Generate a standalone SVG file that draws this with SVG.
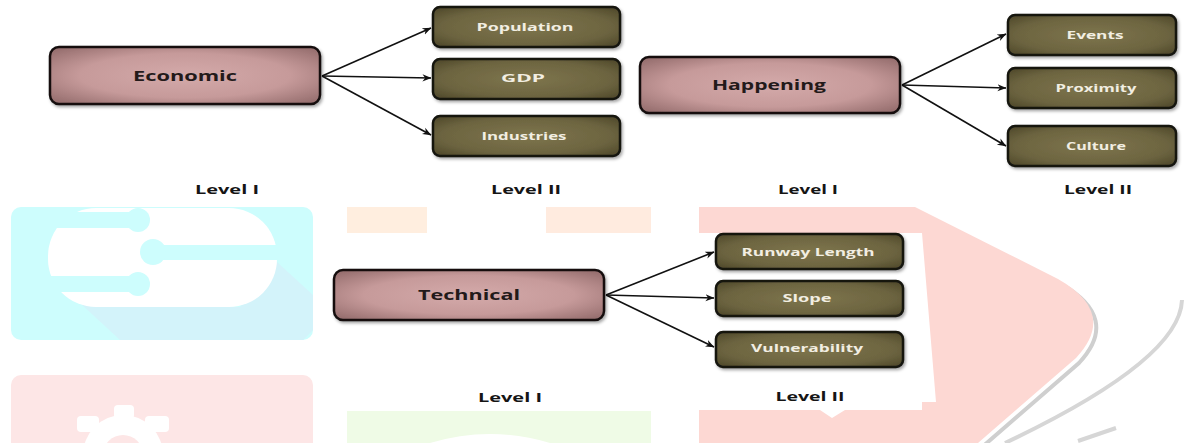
<svg xmlns="http://www.w3.org/2000/svg" width="1184" height="443" viewBox="0 0 1184 443">
<style>
.pk{fill:url(#gp);stroke:#141010;stroke-width:2.5;filter:url(#sh)}
.ol{fill:url(#go);stroke:#141410;stroke-width:2.5;filter:url(#sh)}
.tp{font-family:"Open Sans","DejaVu Sans",sans-serif;font-weight:bold;font-size:15px;fill:#231a1a;text-anchor:middle}
.to{font-family:"Open Sans","DejaVu Sans",sans-serif;font-weight:bold;font-size:10.5px;fill:#f2eee2;text-anchor:middle}
.lv{font-family:"Open Sans","DejaVu Sans",sans-serif;font-weight:bold;font-size:11.5px;fill:#151515;text-anchor:middle}
.cn{stroke:#111;stroke-width:1.6;fill:none;marker-end:url(#ah)}
</style>
<defs>
<radialGradient id="gp" cx="50%" cy="50%" r="65%">
<stop offset="0" stop-color="#d4aaaa"/><stop offset="0.6" stop-color="#c69a9a"/><stop offset="1" stop-color="#987070"/>
</radialGradient>
<radialGradient id="go" cx="50%" cy="50%" r="65%">
<stop offset="0" stop-color="#7e754c"/><stop offset="0.7" stop-color="#6c6440"/><stop offset="1" stop-color="#524b2c"/>
</radialGradient>
<filter id="sh" x="-10%" y="-20%" width="130%" height="150%">
<feDropShadow dx="1.5" dy="2" stdDeviation="1.5" flood-color="#000" flood-opacity="0.35"/>
</filter>
<marker id="ah" viewBox="0 0 10 10" refX="9.5" refY="5" markerWidth="9" markerHeight="9" orient="auto" markerUnits="userSpaceOnUse">
<path d="M0,1 L10,5 L0,9 L3,5 Z" fill="#111"/>
</marker>
</defs>
<rect width="1184" height="443" fill="#fff"/>
<g id="watermark">
<rect x="11" y="207" width="302" height="133" rx="10" fill="#cdfdfd"/>
<polygon points="80,303 240,307 277,262 313,295 313,330 303,340 120,340" fill="#d3f3fa"/>
<rect x="48" y="208" width="229" height="99" rx="48" fill="#fff"/>
<rect x="30" y="212" width="108" height="16" fill="#cdfdfd"/>
<circle cx="138" cy="220" r="12" fill="#cdfdfd"/>
<rect x="153" y="245" width="130" height="15" fill="#cdfdfd"/>
<circle cx="153" cy="252" r="13" fill="#cdfdfd"/>
<rect x="30" y="276" width="108" height="16" fill="#cdfdfd"/>
<circle cx="138" cy="284" r="12" fill="#cdfdfd"/>
<rect x="11" y="375" width="302" height="80" rx="10" fill="#fde6e6"/>
<circle cx="123" cy="455" r="40" fill="#fff"/>
<rect x="114" y="405" width="20" height="14" rx="4" fill="#fff"/>
<rect x="77" y="416" width="22" height="16" rx="4" fill="#fff"/>
<rect x="145" y="416" width="24" height="16" rx="4" fill="#fff"/>
<circle cx="123" cy="455" r="20" fill="#fde6e6"/>
<rect x="347" y="207" width="80" height="26" fill="#ffeedf"/>
<rect x="546" y="207" width="105" height="26" fill="#ffebdf"/>
<rect x="347" y="411" width="304" height="32" fill="#effbe6"/>
<path d="M430,443 Q490,425 550,443 Z" fill="#fff"/>
<path d="M1005,443 Q1180,360 1182,300" stroke="#d6d6d6" stroke-width="4" fill="none"/>
<path d="M1078,441 L1116,428" stroke="#d6d6d6" stroke-width="4" fill="none"/>
<path d="M700,209 L915,209 L1058,281 Q1118,315 1076,360 L978,445" stroke="#cfcfcf" stroke-width="4" fill="none" transform="translate(3,3)"/>
<path d="M699,207 L915,207 L1058,279 Q1118,313 1076,358 L978,443 L699,443 Z" fill="#fdd8d3"/>
<polygon points="699,233 922,233 936,402 922,402 922,410 845,410 832,418 820,410 699,410" fill="#fff"/>
</g>
<g id="connectors">
<path class="cn" d="M322,76 L431,28"/>
<path class="cn" d="M322,76 L431,78"/>
<path class="cn" d="M322,76 L431,135"/>
<path class="cn" d="M902,85 L1006,34"/>
<path class="cn" d="M902,85 L1006,88"/>
<path class="cn" d="M902,85 L1006,146"/>
<path class="cn" d="M606,295 L714,252"/>
<path class="cn" d="M606,295 L714,298"/>
<path class="cn" d="M606,295 L714,347"/>
</g>
<g id="economic"><rect class="pk" x="50" y="47" width="270" height="57" rx="9"/><text class="tp" x="185" y="81" textLength="104" lengthAdjust="spacingAndGlyphs">Economic</text></g>
<g id="population"><rect class="ol" x="433" y="7" width="187" height="40" rx="7"/><text class="to" x="525" y="31" textLength="97" lengthAdjust="spacingAndGlyphs">Population</text></g>
<g id="gdp"><rect class="ol" x="433" y="59" width="187" height="40" rx="7"/><text class="to" x="523" y="82" textLength="44" lengthAdjust="spacingAndGlyphs">GDP</text></g>
<g id="industries"><rect class="ol" x="433" y="116" width="187" height="40" rx="7"/><text class="to" x="524" y="140" textLength="85" lengthAdjust="spacingAndGlyphs">Industries</text></g>
<g id="happening"><rect class="pk" x="640" y="57" width="260" height="56" rx="9"/><text class="tp" x="769" y="90" textLength="114" lengthAdjust="spacingAndGlyphs">Happening</text></g>
<g id="events"><rect class="ol" x="1008" y="15" width="168" height="40" rx="7"/><text class="to" x="1095" y="39" textLength="57" lengthAdjust="spacingAndGlyphs">Events</text></g>
<g id="proximity"><rect class="ol" x="1008" y="68" width="168" height="40" rx="7"/><text class="to" x="1096" y="92" textLength="81" lengthAdjust="spacingAndGlyphs">Proximity</text></g>
<g id="culture"><rect class="ol" x="1008" y="126" width="168" height="40" rx="7"/><text class="to" x="1096" y="150" textLength="60" lengthAdjust="spacingAndGlyphs">Culture</text></g>
<g id="technical"><rect class="pk" x="334" y="270" width="270" height="50" rx="9"/><text class="tp" x="469" y="300" textLength="102" lengthAdjust="spacingAndGlyphs">Technical</text></g>
<g id="runway"><rect class="ol" x="716" y="234" width="187" height="35" rx="7"/><text class="to" x="808" y="256" textLength="133" lengthAdjust="spacingAndGlyphs">Runway Length</text></g>
<g id="slope"><rect class="ol" x="716" y="281" width="187" height="35" rx="7"/><text class="to" x="807" y="302" textLength="49" lengthAdjust="spacingAndGlyphs">Slope</text></g>
<g id="vulnerability"><rect class="ol" x="716" y="332" width="187" height="35" rx="7"/><text class="to" x="807" y="352" textLength="112" lengthAdjust="spacingAndGlyphs">Vulnerability</text></g>
<g id="levels">
<text class="lv" x="227" y="194" textLength="64" lengthAdjust="spacingAndGlyphs">Level I</text>
<text class="lv" x="526" y="194" textLength="70" lengthAdjust="spacingAndGlyphs">Level II</text>
<text class="lv" x="808" y="194" textLength="60" lengthAdjust="spacingAndGlyphs">Level I</text>
<text class="lv" x="1098" y="194" textLength="68" lengthAdjust="spacingAndGlyphs">Level II</text>
<text class="lv" x="510" y="402" textLength="64" lengthAdjust="spacingAndGlyphs">Level I</text>
<text class="lv" x="810" y="401" textLength="69" lengthAdjust="spacingAndGlyphs">Level II</text>
</g>
</svg>
